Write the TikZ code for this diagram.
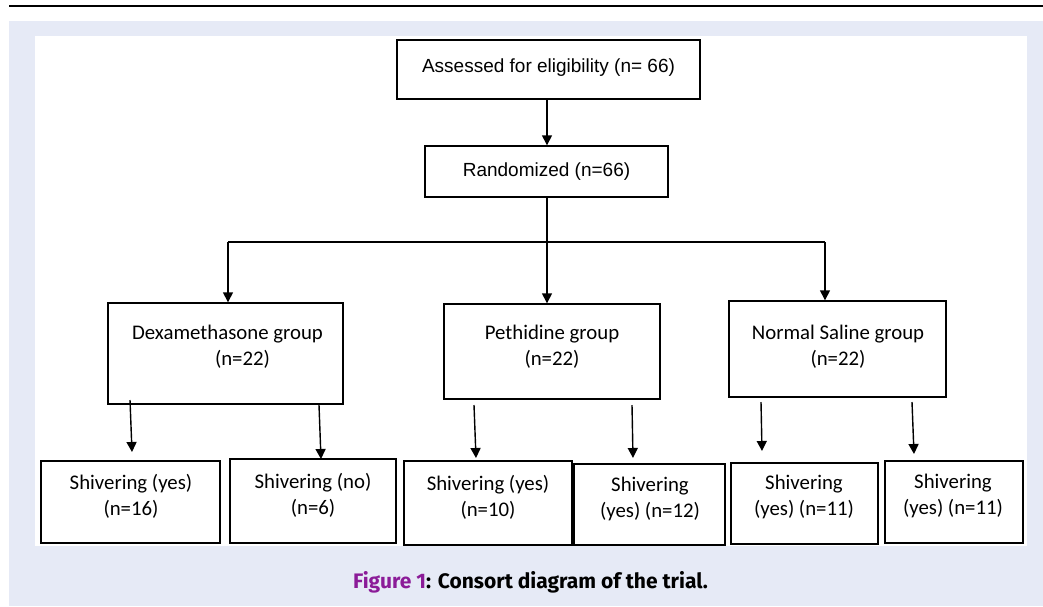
\documentclass[tikz,border=0pt]{standalone}
\usepackage{fontspec}
\setmainfont{Carlito}
\newfontfamily\arialf{Liberation Sans}
\newfontfamily\capf{Fira Sans}
\usetikzlibrary{arrows.meta}
\definecolor{panel}{RGB}{230,234,246}
\definecolor{figpurple}{RGB}{139,27,152}
\begin{document}
\begin{tikzpicture}[x=1pt,y=-1pt,
  box/.style={draw=black, line width=1.4pt, fill=white, inner sep=0pt},
  txt/.style={align=center, font=\fontsize{20.8}{26}\selectfont, inner sep=0pt},
  atxt/.style={font=\arialf\fontsize{19}{22}\selectfont, inner sep=0pt},
  arr/.style={line width=1.4pt, -{Triangle[length=10pt,width=10pt]}},
  ln/.style={line width=1.4pt}]
\useasboundingbox (0,0) rectangle (1043,606);
% page elements
\fill[panel] (9,21) rectangle (1043,606);
\fill[white] (35,36) rectangle (1027,546);
\draw[line width=2pt] (9,6) -- (1043,6);

% top boxes
\node[box, minimum width=303pt, minimum height=59pt] (assess) at (548.5,69.5) {};
\node[atxt] (assessT) at (548.5,68) {Assessed for eligibility (n= 66)};
\node[box, minimum width=243pt, minimum height=51pt] (rand) at (546.5,171.5) {};
\node[atxt] (randT) at (546.5,172) {Randomized (n=66)};

% group boxes
\node[box, minimum width=235pt, minimum height=101pt] (dexa) at (225.5,353.5) {};
\node[txt] (dexaT) at (227.5,347) {Dexamethasone group\\\hspace*{30pt}(n=22)};
\node[box, minimum width=216pt, minimum height=95pt] (peth) at (552,351.5) {};
\node[txt] (pethT) at (552,347) {Pethidine group\\(n=22)};
\node[box, minimum width=217pt, minimum height=96pt] (ns) at (837.5,349) {};
\node[txt] (nsT) at (838,346.5) {Normal Saline group\\(n=22)};

% outcome boxes
\node[box, minimum width=179pt, minimum height=82pt] (b1) at (130.5,502) {};
\node[txt] (b1T) at (131,496.5) {Shivering (yes)\\(n=16)};
\node[box, minimum width=166pt, minimum height=84pt] (b2) at (313,501) {};
\node[txt] (b2T) at (313,495.5) {Shivering (no)\\(n=6)};
\node[box, minimum width=168pt, minimum height=84pt] (b3) at (488,503) {};
\node[txt] (b3T) at (488,497.5) {Shivering (yes)\\(n=10)};
\node[box, minimum width=151pt, minimum height=81pt] (b4) at (649.5,504.5) {};
\node[txt] (b4T) at (650,499) {Shivering\\(yes) (n=12)};
\node[box, minimum width=147pt, minimum height=81pt] (b5) at (804.5,503.5) {};
\node[txt] (b5T) at (804,496.5) {Shivering\\(yes) (n=11)};
\node[box, minimum width=138pt, minimum height=82pt] (b6) at (954,502) {};
\node[txt] (b6T) at (953,495.5) {Shivering\\(yes) (n=11)};

% connectors
\coordinate (bl) at (228,242);
\coordinate (bm) at (547,242);
\coordinate (br) at (825,242);
\draw[arr] (bm |- assess.south) -- (bm |- rand.north);
\draw[ln] (bm |- rand.south) -- (bm);
\draw[ln] (bl) -- (br);
\draw[arr] (bl) -- (bl |- dexa.north);
\draw[arr] (bm) -- (bm |- peth.north);
\draw[arr] (br) -- (br |- ns.north);

% outcome arrows (slightly slanted, as drawn)
\coordinate (s1) at (130,400); \coordinate (e1) at (132,452);
\coordinate (s2) at (319,405); \coordinate (e2) at (321,459);
\coordinate (s3) at (474,405); \coordinate (e3) at (476,458);
\coordinate (s4) at (632,405); \coordinate (e4) at (633,458);
\coordinate (s5) at (761,402); \coordinate (e5) at (762,451);
\coordinate (s6) at (912,402); \coordinate (e6) at (914,454);
\foreach \i in {1,...,6} {\draw[arr] (s\i) -- (e\i);}

% caption
\node[font=\capf\bfseries\fontsize{21}{24}\selectfont, inner sep=0pt] (cap) at (530.5,582)
  {\textcolor{figpurple}{Figure 1}: Consort diagram of the trial.};
\end{tikzpicture}
\end{document}
